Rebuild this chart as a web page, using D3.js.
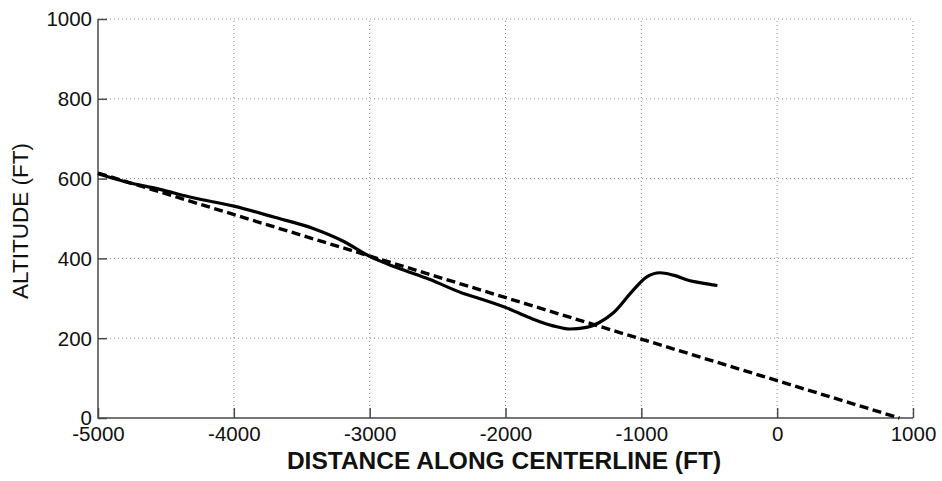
<!DOCTYPE html>
<html>
<head>
<meta charset="utf-8">
<script src="https://cdn.jsdelivr.net/npm/d3@7"></script>
<style>
  html, body { margin: 0; padding: 0; background: #fff; }
  svg { display: block; }
</style>
</head>
<body>
<svg id="chart" width="942" height="481"></svg>
<script>
// Tick values for both axes
const xTicks = [-5000, -4000, -3000, -2000, -1000, 0, 1000];
const yTicks = [0, 200, 400, 600, 800, 1000];

// Flown path: distance along centerline (ft) vs altitude (ft)
const flownDist = [-5000, -4800, -4544, -4300, -4000, -3700, -3416, -3194, -3000, -2800,
                   -2556, -2310, -2188, -1992, -1820, -1650, -1527, -1404, -1306, -1208,
                   -1061, -962, -863, -765, -641, -550, -440];
const flownAlt  = [612, 592, 573, 552, 531, 503, 475, 443, 405, 377,
                   347, 312, 299, 276, 251, 231, 223, 227, 240, 263,
                   320, 353, 364, 358, 344, 338, 332];

// Reference glide path
const glideDist = [-5000, 900];
const glideAlt  = [614, 0];

const svg = d3.select("#chart");
const margin = { left: 98, right: 29, top: 19, bottom: 63 };
const W = 942, H = 481;

const x = d3.scaleLinear().domain([-5000, 1000]).range([margin.left, W - margin.right]);
const y = d3.scaleLinear().domain([0, 1000]).range([H - margin.bottom, margin.top]);

const font = "'Liberation Sans', Arial, sans-serif";
const axisColor = "#4a4a4a";

// Dotted grid
const grid = svg.append("g");
grid.selectAll("line.v").data(xTicks.filter(d => d !== -5000)).join("line")
  .attr("x1", d => x(d)).attr("x2", d => x(d))
  .attr("y1", y(0)).attr("y2", y(1000))
  .attr("stroke", "#8a8a8a").attr("stroke-width", 1)
  .attr("stroke-dasharray", "1,3");
grid.selectAll("line.h").data(yTicks.filter(d => d !== 0)).join("line")
  .attr("x1", x(-5000)).attr("x2", x(1000))
  .attr("y1", d => y(d)).attr("y2", d => y(d))
  .attr("stroke", "#8a8a8a").attr("stroke-width", 1)
  .attr("stroke-dasharray", "1,3");

// Axes with inward ticks; labels use a plain hyphen for negatives
const fmt = d => String(d);
const xAxis = d3.axisBottom(x).tickValues(xTicks).tickSize(-10).tickFormat(fmt);
const yAxis = d3.axisLeft(y).tickValues(yTicks).tickSize(-9).tickFormat(fmt);

const gx = svg.append("g").attr("transform", `translate(0,${y(0)})`).call(xAxis);
const gy = svg.append("g").attr("transform", `translate(${x(-5000)},0)`).call(yAxis);

gx.select(".domain").remove();
gy.select(".domain").remove();
[gx, gy].forEach(g => {
  g.selectAll(".tick line").attr("stroke", axisColor).attr("stroke-width", 1.5);
  g.selectAll(".tick text").attr("fill", "#111").style("font-family", font)
    .style("font-size", "20.5px");
});
gx.selectAll(".tick text").attr("y", 23).attr("dy", 0);
gy.selectAll(".tick text").attr("x", -6).attr("dy", "0.34em");

svg.append("path")
  .attr("d", `M${x(-5000)},${y(1000)}V${y(0)}H${x(1000)}`)
  .attr("fill", "none").attr("stroke", axisColor).attr("stroke-width", 1.5);

// Axis titles
svg.append("text")
  .attr("x", 504).attr("y", 469)
  .attr("text-anchor", "middle")
  .style("font-family", font).style("font-size", "24.5px").style("font-weight", "bold")
  .attr("fill", "#111")
  .text("DISTANCE ALONG CENTERLINE (FT)");

svg.append("text")
  .attr("transform", `translate(28,221) rotate(-90)`)
  .attr("text-anchor", "middle")
  .style("font-family", font).style("font-size", "22.5px")
  .attr("fill", "#111")
  .text("ALTITUDE (FT)");

// Series
const flown = flownDist.map((d, i) => [d, flownAlt[i]]);
const glide = glideDist.map((d, i) => [d, glideAlt[i]]);

const line = d3.line().x(d => x(d[0])).y(d => y(d[1]));

svg.append("path").datum(glide)
  .attr("d", line)
  .attr("fill", "none").attr("stroke", "#000").attr("stroke-width", 3.4)
  .attr("stroke-dasharray", "9,4.5");

svg.append("path").datum(flown)
  .attr("d", line.curve(d3.curveMonotoneX))
  .attr("fill", "none").attr("stroke", "#000").attr("stroke-width", 3.2)
  .attr("stroke-linejoin", "round");
</script>
</body>
</html>
